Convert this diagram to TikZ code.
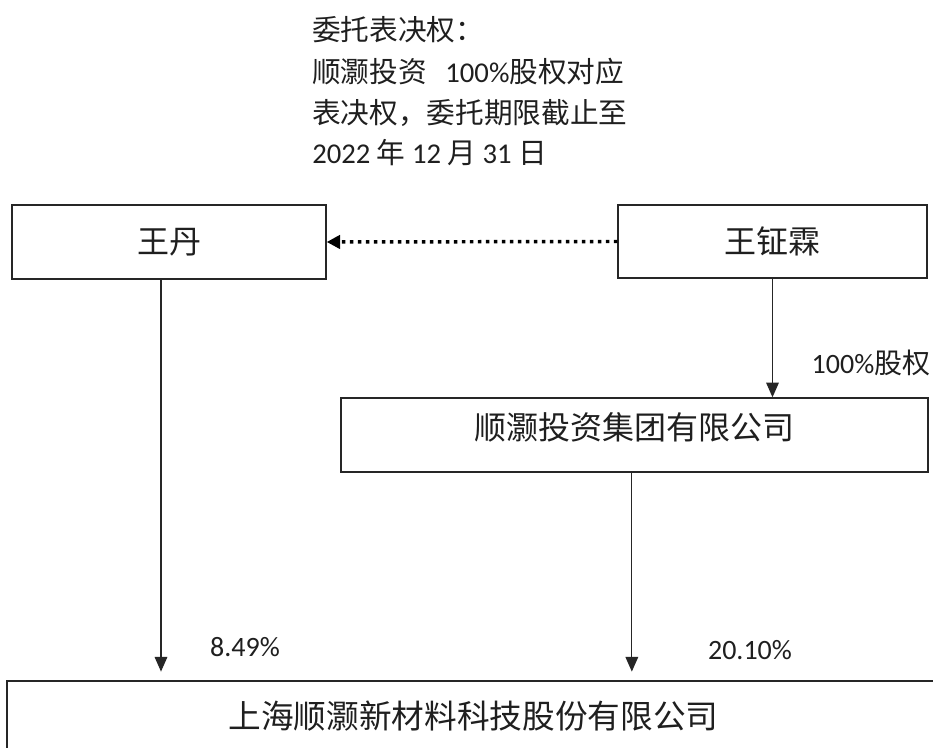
\documentclass[tikz,border=0pt]{standalone}
\usepackage{fontspec}
\setmainfont{Carlito}
\newfontfamily\cjk{Noto Sans CJK SC}
\newcommand\zh[1]{{\cjk #1}}
\usetikzlibrary{arrows.meta}
\begin{document}
\begin{tikzpicture}[x=0.75pt,y=-0.75pt,
  every node/.style={text=black!88},
  box/.style={draw=black!85, line width=1.1pt, inner sep=0pt, font=\cjk\fontsize{24}{28}\selectfont},
  note/.style={inner sep=0pt, anchor=west, font=\fontsize{21.5}{28}\selectfont},
  pct/.style={inner sep=0pt, font=\fontsize{21}{28}\selectfont},
  arr/.style={draw=black!85, line width=0.8pt, -{Triangle[length=11pt,width=9.5pt]}},
  dotarr/.style={draw=black, line width=2.6pt, dash pattern=on 2.6pt off 3.4pt, -{Triangle[length=10pt,width=10pt]}}
]
\useasboundingbox (0,0) rectangle (933,748);
\fill[white] (0,0) rectangle (933,748);

% delegation note
\node[note] (t1) at (312,30) {\zh{委托表决权：}};
\node[note] (t2) at (312,72) {\zh{顺灏投资}\hspace{9pt} 100\%\zh{股权对应}};
\node[note] (t3) at (312,113) {\zh{表决权，委托期限截止至}};
\node[note] (t4) at (312,153) {2022 \zh{年} 12 \zh{月} 31 \zh{日}};

% boxes
\node[box, minimum width=235.5pt, minimum height=55.5pt] (wd) at (169,242) {王丹};
\node[box, minimum width=231.75pt, minimum height=54.75pt] (wzl) at (772.5,241.5) {王钲霖};
\node[box, minimum width=440.25pt, minimum height=55.5pt, text height=19pt, text depth=12pt] (sh) at (634.5,435) {顺灏投资集团有限公司};
\node[box, minimum width=699.75pt, minimum height=52.5pt, font=\cjk\fontsize{24.5}{30}\selectfont] (main) at (473.5,716) {上海顺灏新材料科技股份有限公司};

% connectors
\draw[dotarr] (wzl.west) -- (wd.east);
\draw[arr] (wzl.south) -- (wzl.south |- sh.north);
\coordinate (a1) at ([xshift=-6pt]wd.south);
\coordinate (a2) at ([xshift=-2pt]sh.south);
\draw[arr, shorten >=6.5pt] (a1) -- (a1 |- main.north);
\draw[arr, shorten >=6.5pt] (a2) -- (a2 |- main.north);

% labels
\node[pct] (l1) at (871,363) {100\%\zh{股权}};
\node[pct] (l2) at (245,647) {8.49\%};
\node[pct] (l3) at (750,650) {20.10\%};
\end{tikzpicture}
\end{document}
